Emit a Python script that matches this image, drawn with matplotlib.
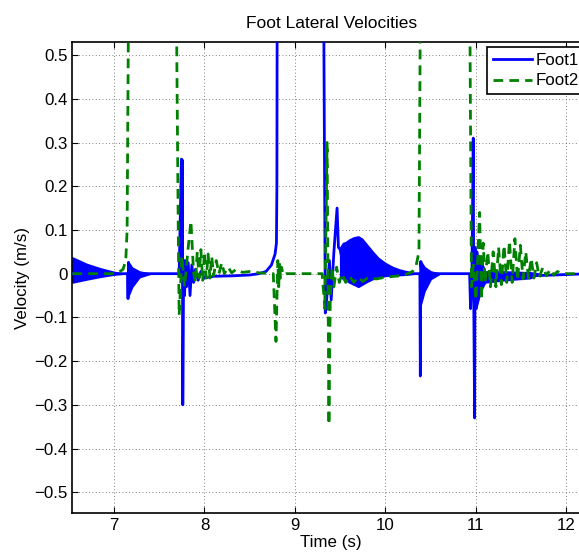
import matplotlib
matplotlib.use("Agg")
import matplotlib.pyplot as plt

plt.rcParams['font.family'] = ['Liberation Sans', 'DejaVu Sans']

# ---------------- data ----------------
# Foot1 main trace (time s, velocity m/s); values above 0.53 are off-chart
t1 = [6.54, 7.10, 7.15, 7.155, 7.16, 7.18,
      7.72, 7.745, 7.75, 7.755, 7.76, 7.77, 7.78, 7.79, 7.80, 7.82,
      7.84, 7.86, 7.88, 7.90, 7.93, 7.96, 8.00, 8.10, 8.30, 8.50,
      8.60, 8.68, 8.74, 8.78, 8.795, 8.80, 8.81,
      9.31, 9.32, 9.335, 9.35, 9.38, 9.40, 9.43, 9.465, 9.48, 9.50, 9.53,
      10.30, 10.37, 10.38, 10.385, 10.39, 10.40, 10.60,
      10.93, 10.94, 10.955, 10.97, 10.975, 10.985, 10.99, 11.00, 11.01,
      11.02, 11.03, 11.05, 11.07, 11.10, 11.60, 12.26]
v1 = [0.0, 0.0, 0.0, -0.057, 0.026, 0.0,
      0.0, 0.262, -0.02, 0.26, -0.30, 0.03, -0.05, 0.03, -0.03, 0.025,
      -0.05, 0.02, -0.02, 0.01, -0.015, 0.005, -0.01, -0.006, -0.005, -0.003,
      0.0, 0.005, 0.02, 0.045, 0.07, 0.2, 1.5,
      1.5, 0.5, -0.09, -0.06, 0.03, -0.06, 0.05, 0.15, 0.06, 0.055, 0.02,
      0.0, 0.0, 0.0, -0.234, 0.028, 0.0, 0.0,
      0.0, -0.08, 0.0, 0.31, -0.05, -0.33, 0.06, -0.08, 0.05,
      -0.06, 0.03, -0.04, 0.02, 0.0, -0.005, 0.0]

# Foot1 dense-oscillation envelopes (time, upper, lower)
bandA_t = [6.54, 6.70, 6.85, 7.00, 7.10]
bandA_up = [0.037, 0.022, 0.012, 0.004, 0.0]
bandA_lo = [-0.020, -0.013, -0.007, -0.002, 0.0]

bandB_t = [7.16, 7.20, 7.28, 7.40]
bandB_up = [0.026, 0.014, 0.005, 0.0]
bandB_lo = [-0.050, -0.030, -0.008, 0.0]

bandD_t = [9.50, 9.53, 9.56, 9.60, 9.65, 9.70, 9.74, 9.80, 9.86, 9.92,
           10.00, 10.08, 10.16, 10.24, 10.32]
bandD_up = [0.060, 0.070, 0.072, 0.078, 0.083, 0.085, 0.080, 0.065, 0.050, 0.036,
            0.024, 0.015, 0.009, 0.005, 0.0]
bandD_lo = [-0.005, -0.012, -0.015, -0.020, -0.025, -0.030, -0.025, -0.018, -0.012, -0.008,
            -0.005, -0.004, -0.003, -0.002, 0.0]

bandE_t = [10.39, 10.43, 10.50, 10.60]
bandE_up = [0.028, 0.015, 0.005, 0.0]
bandE_lo = [-0.070, -0.040, -0.012, 0.0]

bandF_t = [11.00, 11.05, 11.10, 11.30, 11.60, 11.70]
bandF_up = [0.050, 0.030, 0.005, 0.005, 0.003, 0.0]
bandF_lo = [-0.080, -0.040, -0.020, -0.015, -0.010, 0.0]

# Foot2 trace
t2 = [6.54, 6.90, 7.00, 7.05, 7.10, 7.13, 7.145, 7.16, 7.18,
      7.67, 7.69, 7.71, 7.72, 7.75, 7.78, 7.82, 7.85, 7.88, 7.90,
      7.92, 7.94, 7.96, 7.98, 8.00, 8.02, 8.04, 8.06, 8.08, 8.10,
      8.13, 8.16, 8.19, 8.22, 8.26, 8.30, 8.35, 8.42, 8.50, 8.60,
      8.76, 8.79, 8.81, 8.82, 8.83, 8.84, 8.85, 8.87, 8.90,
      9.30, 9.33, 9.355, 9.375, 9.39, 9.41, 9.43, 9.46, 9.49, 9.52,
      9.56, 9.60, 9.65, 9.70, 9.75, 9.80, 9.90, 10.00, 10.10, 10.20,
      10.30, 10.34, 10.37, 10.385, 10.40,
      10.92, 10.935, 10.95, 10.97, 11.00, 11.04, 11.06, 11.08, 11.10,
      11.13, 11.16, 11.19, 11.22, 11.25, 11.28, 11.31, 11.34, 11.37,
      11.40, 11.43, 11.46, 11.49, 11.52, 11.55, 11.58, 11.61, 11.64,
      11.67, 11.70, 11.74, 11.78, 11.82, 11.86, 11.90, 11.95, 12.00, 12.26]
v2 = [0.0, 0.0, 0.0, 0.003, 0.01, 0.03, 0.1, 0.6, 1.5,
      1.5, 0.6, 0.1, -0.095, 0.04, -0.03, 0.06, 0.12, 0.0, -0.02,
      0.05, -0.01, 0.055, -0.015, 0.05, -0.01, 0.045, -0.01, 0.04, -0.005,
      0.03, 0.0, 0.025, 0.0, 0.015, 0.002, 0.01, 0.003, 0.005, 0.002,
      0.0, -0.155, 0.03, -0.03, 0.025, -0.01, 0.015, -0.003, 0.0,
      0.0, -0.08, 0.30, -0.345, -0.05, 0.015, -0.03, 0.015, -0.02, 0.0,
      -0.02, -0.005, -0.02, -0.008, -0.018, -0.01, -0.012, -0.008, -0.006, -0.004,
      0.005, 0.02, 0.05, 0.6, 1.5,
      1.5, 0.5, -0.03, 0.02, -0.06, 0.14, -0.06, 0.07, -0.02,
      0.05, -0.03, 0.05, -0.03, 0.06, -0.025, 0.065, -0.02, 0.075,
      -0.02, 0.08, -0.015, 0.065, -0.012, 0.05, -0.01, 0.035, -0.01,
      0.025, -0.008, 0.015, -0.005, 0.01, -0.003, 0.005, 0.0, 0.0, 0.0]

xticks = [7, 8, 9, 10, 11, 12]
yticks = [-0.5, -0.4, -0.3, -0.2, -0.1, 0, 0.1, 0.2, 0.3, 0.4, 0.5]
ytick_labels = ['\u22120.5', '\u22120.4', '\u22120.3', '\u22120.2', '\u22120.1',
                '0', '0.1', '0.2', '0.3', '0.4', '0.5']

# ---------------- figure ----------------
fig = plt.figure(figsize=(5.79, 5.56), dpi=100)
ax = fig.add_axes([0.125, 0.0768, 0.894, 0.847])

blue = (0, 0, 1)
green = (0, 0.5, 0)

for bt, bu, bl in [(bandA_t, bandA_up, bandA_lo), (bandB_t, bandB_up, bandB_lo),
                   (bandD_t, bandD_up, bandD_lo), (bandE_t, bandE_up, bandE_lo),
                   (bandF_t, bandF_up, bandF_lo)]:
    ax.fill_between(bt, bl, bu, color=blue, lw=1.2, edgecolor=blue, zorder=2)

ax.plot(t1, v1, color=blue, lw=2, label='Foot1', zorder=3)
ax.plot(t2, v2, color=green, lw=2, ls=(0, (3.5, 2.2)), label='Foot2', zorder=4)

ax.set_xlim(6.54, 12.26)
ax.set_ylim(-0.548, 0.529)
ax.set_xticks(xticks)
ax.set_xticklabels([str(x) for x in xticks])
ax.set_yticks(yticks)
ax.set_yticklabels(ytick_labels)

ax.grid(True, ls=(0, (1, 3)), color='#555555', lw=0.6)
ax.tick_params(direction='in', length=4, top=True, right=True, labelsize=12.2, width=0.8)
for s in ax.spines.values():
    s.set_linewidth(1.2)
    s.set_color('black')

ax.set_title('Foot Lateral Velocities', fontsize=12.5, pad=10)
ax.set_xlabel('Time (s)', fontsize=12.2, labelpad=1)
ax.set_ylabel('Velocity (m/s)', fontsize=12.2, labelpad=3)

leg = ax.legend(loc='upper right', fontsize=12.2, fancybox=False, framealpha=1,
                edgecolor='black', borderaxespad=0.3, handlelength=2.3,
                handletextpad=0.2, borderpad=0.35, labelspacing=0.3)
leg.get_frame().set_linewidth(1.2)

fig.savefig('out.png', dpi=100)
